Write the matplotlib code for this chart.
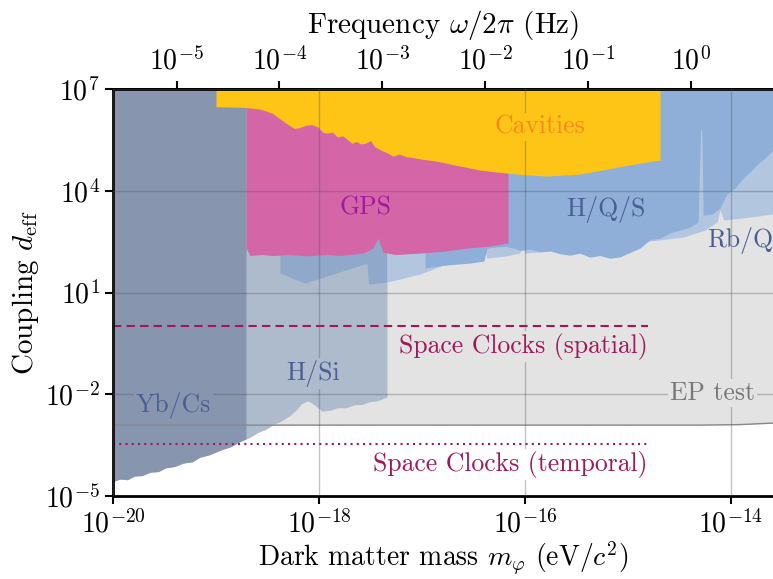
import numpy as np
import matplotlib
matplotlib.use("Agg")
import matplotlib.pyplot as plt
from matplotlib.ticker import NullLocator

plt.rcParams['font.family'] = 'serif'
plt.rcParams['font.serif'] = ['cmr10']
plt.rcParams['mathtext.fontset'] = 'cm'
plt.rcParams['axes.formatter.use_mathtext'] = True

H_EVS = 4.135667696e-15  # Planck constant in eV s

# all bounds stored as log10 values
X_MIN, X_MAX = -20.0, -13.592
Y_MIN, Y_MAX = -5.0, 7.0

# EP test (torsion balance) bound
ep_x = [-20.0, -14.3, -13.91, -13.592]
ep_y = [-2.91, -2.91, -2.895, -2.85]

# Yb/Cs and H/Si share a lower edge
hsi_x = [-20.00, -19.93, -19.86, -19.79, -19.72, -19.64, -19.56, -19.49,
         -19.40, -19.32, -19.23, -19.16, -19.06, -18.96, -18.86, -18.77,
         -18.67, -18.59, -18.52, -18.44, -18.36, -18.28, -18.22, -18.17,
         -18.11, -18.05, -17.97, -17.89, -17.82, -17.74, -17.66, -17.58,
         -17.51, -17.43, -17.34]
hsi_y = [-4.57, -4.50, -4.52, -4.41, -4.40, -4.30, -4.28, -4.17,
         -4.13, -4.03, -3.99, -3.86, -3.78, -3.65, -3.55, -3.40,
         -3.27, -3.12, -3.04, -2.89, -2.78, -2.62, -2.46, -2.28,
         -2.19, -2.30, -2.50, -2.47, -2.40, -2.40, -2.31, -2.30,
         -2.22, -2.19, -2.08]
ybcs_edge = -18.709

# Rb/Q lower edge
rbq_x = [-18.379, -18.136, -17.534, -17.519, -17.340, -17.214, -17.019, -16.796,
         -16.583, -16.408, -16.388, -16.369, -16.194, -16.049, -16.029, -16.000,
         -15.757, -15.466, -15.107, -14.786, -14.466, -14.252, -14.136, -14.107,
         -14.068, -13.981, -13.816, -13.592]
rbq_y = [1.572, 1.277, 1.867, 1.248, 1.307, 1.395, 1.543, 1.808,
         1.897, 1.956, 2.251, 2.015, 2.074, 2.162, 2.339, 2.162,
         2.221, 2.251, 2.339, 2.516, 2.634, 2.841, 3.077, 3.431,
         3.136, 3.165, 3.224, 3.313]

# H/Q/S lower edge
hqs_x = [-16.971, -16.777, -16.534, -16.398, -16.369, -16.320, -16.194, -16.097,
         -16.049, -15.951, -15.854, -15.757, -15.660, -15.563, -15.466, -15.369,
         -15.272, -15.175, -15.078, -14.981, -14.883, -14.786, -14.689, -14.592,
         -14.495, -14.398, -14.320, -14.295, -14.283, -14.270, -14.184, -14.107,
         -14.039, -13.961, -13.893, -13.816, -13.738, -13.670, -13.592]
hqs_y = [1.720, 1.808, 1.867, 1.926, 2.300, 2.330, 2.360, 2.300,
         2.240, 2.280, 2.200, 2.230, 2.140, 2.100, 2.160, 2.040,
         2.090, 2.010, 2.050, 2.180, 2.310, 2.560, 2.600, 2.760,
         2.840, 2.930, 3.077, 5.791, 5.791, 3.283, 3.313, 3.490,
         3.900, 4.080, 4.330, 4.552, 4.800, 4.965, 5.201]

# GPS lower edge
gps_x = [-18.709, -18.670, -18.553, -18.447, -18.282, -18.117, -17.942, -17.796,
         -17.573, -17.476, -17.427, -17.379, -17.262, -17.019, -16.777, -16.563,
         -16.340, -16.165]
gps_y = [2.310, 2.090, 2.120, 2.090, 2.120, 2.080, 2.120, 2.090,
         2.162, 2.310, 2.605, 2.192, 2.120, 2.162, 2.221, 2.310,
         2.369, 2.457]

# Cavities lower edge
cav_x = [-19.000, -18.728, -18.573, -18.45, -18.37, -18.30, -18.24, -18.19,
         -18.13, -18.07, -18.01, -17.96, -17.92, -17.87, -17.82, -17.77,
         -17.72, -17.68, -17.64, -17.59, -17.55, -17.50, -17.46, -17.40,
         -17.34, -17.28, -17.22, -17.15, -17.09, -17.00, -16.92, -16.84,
         -16.76, -16.67, -16.58, -16.44, -16.30, -16.175, -16.00, -15.786,
         -15.466, -15.146, -14.883, -14.689]
cav_y = [6.478, 6.460, 6.41, 6.28, 6.10, 5.95, 5.84, 5.86,
         5.93, 5.95, 5.88, 5.72, 5.70, 5.73, 5.58, 5.62,
         5.50, 5.40, 5.45, 5.38, 5.40, 5.48, 5.30, 5.20,
         5.12, 5.02, 5.08, 5.00, 4.98, 4.93, 4.90, 4.86,
         4.81, 4.75, 4.70, 4.61, 4.56, 4.522, 4.47, 4.434,
         4.493, 4.670, 4.817, 4.906]

# projected space clock sensitivities
sc_end = -14.81
sc_spatial = 0.0
sc_temporal = -3.46

c_ep = '#e3e3e3'
c_hsi = '#aebbcd'
c_ybcs = '#8796ae'
c_rbq_dark = '#90a8c9'
c_rbq = '#b3c6e0'
c_hqs = '#8fafd8'
c_gps = '#d466a8'
c_cav = '#fec516'
c_sc = '#a0185a'
c_blue_txt = '#4a5e96'


def p(v):
    return 10.0 ** np.asarray(v)


def m2f(m):
    return m / H_EVS


def f2m(f):
    return f * H_EVS


fig = plt.figure(figsize=(7.73, 5.79), dpi=100)
ax = fig.add_axes([113 / 773, 83 / 579, 660 / 773, 407 / 579])
ax.set_xscale('log')
ax.set_yscale('log')
ax.set_xlim(p(X_MIN), p(X_MAX))
ax.set_ylim(p(Y_MIN), p(Y_MAX))
top = p(Y_MAX)

# EP test
ax.fill_between(p(ep_x), p(ep_y), top, color=c_ep, lw=0)
ax.plot(p(ep_x), p(ep_y), color='#888888', lw=1.0)

# H/Si and Yb/Cs
hx = np.array(hsi_x)
hy = np.array(hsi_y)
ax.fill_between(p(hx), p(hy), top, color=c_hsi, lw=0)
k = np.searchsorted(hx, ybcs_edge)
yb_x = np.append(hx[:k], ybcs_edge)
yb_y = np.append(hy[:k], np.interp(ybcs_edge, hx, hy))
ax.fill_between(p(yb_x), p(yb_y), top, color=c_ybcs, lw=0)

# Rb/Q (darker where it overlaps H/Si)
rx = np.array(rbq_x)
ry = np.array(rbq_y)
j = np.searchsorted(rx, hx[-1]) + 1
ax.fill_between(p(rx[:j]), p(ry[:j]), top, color=c_rbq_dark, lw=0)
ax.fill_between(p(rx[j - 1:]), p(ry[j - 1:]), top, color=c_rbq, lw=0)

# H/Q/S
ax.fill_between(p(hqs_x), p(hqs_y), top, color=c_hqs, lw=0)

# GPS
ax.fill_between(p(gps_x), p(gps_y), top, color=c_gps, lw=0)

# Cavities
ax.fill_between(p(cav_x), p(cav_y), top, color=c_cav, lw=0)

# space clocks
ax.plot(p([X_MIN, sc_end]), p([sc_spatial, sc_spatial]), color=c_sc,
        lw=1.5, ls=(0, (4, 2.5)))
ax.plot(p([X_MIN, sc_end]), p([sc_temporal, sc_temporal]), color=c_sc,
        lw=1.5, ls=(0, (1, 2)))

ax.set_axisbelow(False)
ax.grid(True, which='major', color='#555555', alpha=0.35, lw=1.0)

fs = 18.5


def label(x, y, s, color, bg=None, ha='center'):
    box = None
    if bg:
        box = dict(fc=bg, ec='none', pad=1.5)
    ax.text(p(x), p(y), s, color=color, fontsize=fs, ha=ha, va='center',
            bbox=box, zorder=4)


label(-15.854, 5.88, 'Cavities', '#f5891f', c_cav)
label(-17.544, 3.49, 'GPS', '#9f1a9c', c_gps)
label(-15.214, 3.46, 'H/Q/S', c_blue_txt, c_hqs)
label(-14.23, 2.52, 'Rb/Q', c_blue_txt, ha='left')
label(-18.06, -1.38, 'H/Si', c_blue_txt, c_hsi)
label(-19.41, -2.32, 'Yb/Cs', c_blue_txt, c_ybcs)
label(-14.18, -1.97, 'EP test', '#777777', c_ep)
label(-14.806, -0.58, 'Space Clocks (spatial)', c_sc, c_ep, ha='right')
label(-14.806, -4.06, 'Space Clocks (temporal)', c_sc, 'white', ha='right')

ax.set_xticks(p([-20, -18, -16, -14]))
ax.set_yticks(p([-5, -2, 1, 4, 7]))
ax.xaxis.set_minor_locator(NullLocator())
ax.yaxis.set_minor_locator(NullLocator())
ax.tick_params(which='major', direction='out', length=6, width=1.5,
               labelsize=20)
for side in ['left', 'bottom', 'top']:
    ax.spines[side].set_linewidth(2)
ax.spines['right'].set_visible(False)

ax.set_xlabel(r'Dark matter mass $m_\varphi$ (eV/$c^2$)', fontsize=20,
              labelpad=1)
ax.set_ylabel(r'Coupling $d_{\rm eff}$', fontsize=21, labelpad=3)

sec = ax.secondary_xaxis('top', functions=(m2f, f2m))
sec.set_xticks([1e-5, 1e-4, 1e-3, 1e-2, 1e-1, 1e0])
sec.xaxis.set_minor_locator(NullLocator())
sec.tick_params(which='major', direction='out', length=6, width=1.5,
                labelsize=20)
sec.spines['top'].set_linewidth(2)
sec.set_xlabel(r'Frequency $\omega/2\pi$ (Hz)', fontsize=21, labelpad=10)

fig.savefig('out.png', dpi=100)
